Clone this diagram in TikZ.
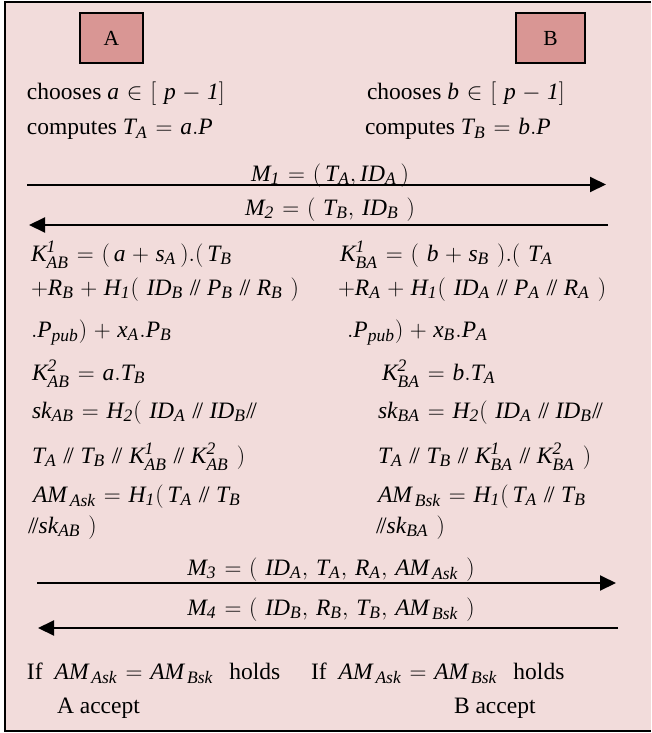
\RequirePackage{fix-cm}
\documentclass[tikz,border=0pt]{standalone}
\usepackage{amsmath}
\usepackage{fontspec}
\setmainfont{Liberation Serif}
\usetikzlibrary{arrows.meta}
\DeclareMathSizes{23.5}{23.5}{17.5}{13}
\definecolor{bgpink}{HTML}{F2DCDB}
\definecolor{boxred}{HTML}{D99694}
\newcommand\M[1]{$\mathit{#1}$}
\newcommand\cc{\mathbin{\textup{/\kern-0.1em/}}}
\newcommand\op{(\;}
\newcommand\cp{\;)}
\newcommand\cm{,\,}
\newcommand\eqq{\mathrel{=}}
\tikzset{
  txt/.style={anchor=base west, inner sep=0pt, outer sep=0pt},
  ctxt/.style={anchor=base, inner sep=0pt, outer sep=0pt},
  party/.style={draw=black, line width=1.3pt, fill=boxred, inner sep=0pt, font=\fontsize{21.5}{25}\selectfont},
  msg/.style={line width=2pt, -{Triangle[length=16pt,width=15pt]}}
}
\begin{document}
\begin{tikzpicture}[x=1pt,y=-1pt,font=\fontsize{23.5}{27}\selectfont]
\scriptspace=1pt
\medmuskip=5mu plus 2mu minus 2mu
\thickmuskip=6mu plus 3mu
\useasboundingbox (0,0) rectangle (651,733);
\fill[white] (0,0) rectangle (651,733);
\fill[bgpink] (5,2) rectangle (651,731);
\draw[line width=2pt] (651,2) -- (5,2) -- (5,731) -- (651,731);

\node[party, minimum width=63pt, minimum height=50pt] (A) at (111.5,38) {A};
\node[party, minimum width=69pt, minimum height=50pt] (B) at (550.5,38) {B};

% initial computations
\node[txt] (a1) at (27,100) {chooses \M{a\in[\;p-1]}};
\node[txt] (a2) at (27,135) {computes \M{T_A = a.P}};
\node[txt] (b1) at (367,100) {chooses \M{b\in[\;p-1]}};
\node[txt] (b2) at (365,135) {computes \M{T_B = b.P}};

% messages 1,2
\node[ctxt] (l1) at (330,181) {\M{M_1 =(\,T_A,ID_A\,)}};
\coordinate (m1s) at (27,184.5);
\coordinate (m1e) at (606,184.5);
\draw[msg] (m1s) -- (m1e);
\node[ctxt] (l2) at (330,215) {\M{M_2 =\op T_B\cm ID_B\cp}};
\coordinate (m2s) at (608,225);
\coordinate (m2e) at (29,225);
\draw[msg] (m2s) -- (m2e);

% left column
\node[txt] (k1) at (31,261) {\M{K^1_{AB} =(\,a+s_A\,).(\,T_B}};
\node[txt] (k2) at (31,295) {\M{+R_B+H_1\op ID_B\cc P_B\cc R_B\cp}};
\node[txt] (k3) at (31,337) {\M{.P_{pub})+x_A.P_B}};
\node[txt] (k4) at (32,380) {\M{K^2_{AB} =a.T_B}};
\node[txt] (k5) at (32,418) {\M{sk_{AB} =H_2\op ID_A\cc ID_B\cc}};
\node[txt] (k6) at (32,463) {\M{T_A\cc T_B\cc K^1_{AB}\cc K^2_{AB}\cp}};
\node[txt] (k7) at (33,502) {\M{AM_{\,Ask}\eqq H_1(\,T_A\cc T_B}};
\node[txt] (k8) at (28,533) {\M{\cc sk_{AB}\cp}};

% right column
\node[txt] (r1) at (340,261) {\M{K^1_{BA} =\op b+s_B\cp.\op T_A}};
\node[txt] (r2) at (338,295) {\M{+R_A+H_1\op ID_A\cc P_A\cc R_A\cp}};
\node[txt] (r3) at (347,337) {\M{.P_{pub})+x_B.P_A}};
\node[txt] (r4) at (382,380) {\M{K^2_{BA} =b.T_A}};
\node[txt] (r5) at (378,418) {\M{sk_{BA} =H_2\op ID_A\cc ID_B\cc}};
\node[txt] (r6) at (378,463) {\M{T_A\cc T_B\cc K^1_{BA}\cc K^2_{BA}\cp}};
\node[txt] (r7) at (378,502) {\M{AM_{\,Bsk}\eqq H_1(\,T_A\cc T_B}};
\node[txt] (r8) at (376,533) {\M{\cc sk_{BA}\cp}};

% messages 3,4
\node[ctxt] (l3) at (331,575) {\M{M_3 =\op ID_A\cm T_A\cm R_A\cm AM_{\,Ask}\cp}};
\coordinate (m3s) at (37,583);
\coordinate (m3e) at (616,583);
\draw[msg] (m3s) -- (m3e);
\node[ctxt] (l4) at (331,615) {\M{M_4 =\op ID_B\cm R_B\cm T_B\cm AM_{\,Bsk}\cp}};
\coordinate (m4s) at (618,628);
\coordinate (m4e) at (38,628);
\draw[msg] (m4s) -- (m4e);

% final checks
\node[txt] (f1) at (27,679) {If\hspace{12pt}\M{AM_{\,Ask}\eqq AM_{\,Bsk}}\hspace{16pt}holds};
\node[txt] (f2) at (311,679) {If\hspace{12pt}\M{AM_{\,Ask}\eqq AM_{\,Bsk}}\hspace{16pt}holds};
\node[txt] (f3) at (57,713) {A accept};
\node[txt] (f4) at (454,713) {B accept};
\end{tikzpicture}
\end{document}
